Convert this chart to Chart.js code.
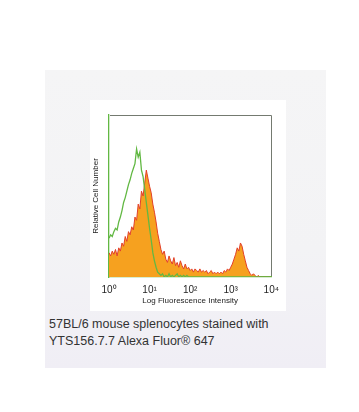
<!DOCTYPE html>
<html>
<head>
<meta charset="utf-8">
<script src="https://cdn.jsdelivr.net/npm/chart.js@4/dist/chart.umd.min.js"></script>
<style>
  html, body { margin: 0; padding: 0; background: #ffffff; }
  body { width: 359px; height: 412px; position: relative; overflow: hidden; font-family: "Liberation Sans", Arial, sans-serif; }
  #panel { position: absolute; left: 45px; top: 70px; width: 281px; height: 298px;
    background: linear-gradient(180deg, #f5f5f6 0%, #f3f3f5 60%, #f0eef5 100%); }
  #white { position: absolute; left: 90px; top: 100px; width: 196px; height: 211px; background: #ffffff; }
  #wrap { position: absolute; left: 90px; top: 100px; width: 196px; height: 211px; }
  #caption { position: absolute; left: 49px; top: 316px; font-size: 12.5px; line-height: 17px; color: #333333; white-space: nowrap; }
</style>
</head>
<body>
<div id="panel"></div>
<div id="white"></div>
<div id="wrap"><canvas id="c" width="196" height="211"></canvas></div>
<div id="caption">57BL/6 mouse splenocytes stained with<br>YTS156.7.7 Alexa Fluor® 647</div>
<script>
// Histogram bins: log10 fluorescence from 10^0 to 10^4, bin width 0.04 decades
const binWidth = 0.04;
const tickLabels = ["10\u2070", "10\u00b9", "10\u00b2", "10\u00b3", "10\u2074"];
const xTitle = "Log Fluorescence Intensity";
const yTitle = "Relative Cell Number";

// Stained sample (orange fill, red edge), relative height
const stainedCounts = [
  0.15, 0.13, 0.16, 0.14, 0.17, 0.13, 0.18, 0.16, 0.21, 0.19,
  0.25, 0.22, 0.28, 0.26, 0.31, 0.29, 0.37, 0.35, 0.45, 0.42,
  0.53, 0.50, 0.58, 0.66, 0.61, 0.56, 0.52, 0.45, 0.40, 0.34,
  0.27, 0.22, 0.17, 0.14, 0.16, 0.11, 0.09, 0.13, 0.10, 0.08,
  0.12, 0.07, 0.09, 0.06, 0.10, 0.07, 0.05, 0.08, 0.05, 0.06,
  0.04, 0.05, 0.03, 0.05, 0.04, 0.03, 0.05, 0.03, 0.04, 0.03,
  0.04, 0.02, 0.03, 0.04, 0.02, 0.03, 0.02, 0.03, 0.02, 0.03,
  0.02, 0.04, 0.03, 0.05, 0.04, 0.06, 0.08, 0.11, 0.14, 0.18,
  0.16, 0.21, 0.19, 0.14, 0.10, 0.06, 0.04, 0.02, 0.01, 0.02,
  0.01, 0.00, 0.01, 0.00, 0.00, 0.00, 0.00, 0.00, 0.00, 0.00,
  0.00
];

// Unstained control (green line), relative height
const controlCounts = [
  0.24, 0.26, 0.25, 0.28, 0.30, 0.29, 0.34, 0.37, 0.41, 0.46,
  0.49, 0.53, 0.57, 0.60, 0.64, 0.67, 0.70, 0.79, 0.74, 0.77,
  0.66, 0.62, 0.54, 0.46, 0.38, 0.30, 0.23, 0.15, 0.10, 0.06,
  0.03, 0.02, 0.01, 0.02, 0.00, 0.01, 0.00, 0.02, 0.00, 0.01,
  0.00, 0.01, 0.02, 0.00, 0.01, 0.00, 0.01, 0.00, 0.01, 0.00,
  0.00, 0.00, 0.00, 0.00, 0.00, 0.00, 0.00, 0.00, 0.00, 0.00,
  0.00, 0.00, 0.00, 0.00, 0.00, 0.00, 0.00, 0.00, 0.00, 0.00,
  0.00, 0.00, 0.00, 0.00, 0.00, 0.00, 0.00, 0.00, 0.00, 0.00,
  0.00, 0.00, 0.00, 0.00, 0.00, 0.00, 0.00, 0.00, 0.00, 0.00,
  0.00, 0.00, 0.00, 0.00, 0.00, 0.00, 0.00, 0.00, 0.00, 0.00,
  0.00
];

const toPoints = arr => arr.map((v, i) => ({ x: i * binWidth, y: v }));

const framePlugin = {
  id: 'frame',
  afterDraw(chart) {
    const a = chart.chartArea, ctx = chart.ctx;
    ctx.save();
    ctx.strokeStyle = '#747a70';
    ctx.lineWidth = 1;
    ctx.beginPath();
    ctx.moveTo(a.left + 1, Math.floor(a.top) + 0.5);
    ctx.lineTo(Math.floor(a.right) + 0.5, Math.floor(a.top) + 0.5);
    ctx.lineTo(Math.floor(a.right) + 0.5, a.bottom - 1);
    ctx.stroke();
    ctx.restore();
  }
};

new Chart(document.getElementById('c'), {
  type: 'line',
  data: {
    datasets: [
      {
        label: 'Control',
        data: toPoints(controlCounts),
        borderColor: '#62b843',
        borderWidth: 1.3,
        fill: false,
        pointRadius: 0,
        tension: 0,
        order: 0
      },
      {
        label: 'YTS156.7.7',
        data: toPoints(stainedCounts),
        borderColor: '#e2402a',
        backgroundColor: '#f6a11f',
        borderWidth: 1,
        fill: 'origin',
        pointRadius: 0,
        tension: 0,
        order: 1
      }
    ]
  },
  options: {
    responsive: false,
    animation: false,
    layout: { padding: { top: 15, right: 10, left: 0, bottom: 0 } },
    plugins: { legend: { display: false }, tooltip: { enabled: false } },
    scales: {
      x: {
        type: 'linear',
        min: 0, max: 4,
        grid: { display: false, drawTicks: false },
        border: { display: true, color: '#62b843', width: 1.3 },
        ticks: {
          stepSize: 1,
          padding: 7,
          color: '#1e1e1e',
          font: { family: 'Liberation Sans', size: 10 },
          maxRotation: 0,
          autoSkip: false,
          callback: (v) => tickLabels[Math.round(v)]
        },
        title: { display: true, text: xTitle, color: '#222222',
          font: { family: 'Liberation Sans', size: 8 }, padding: 5 },
        afterFit: (s) => { s.height = 34; }
      },
      y: {
        min: 0, max: 1,
        grid: { display: false, drawTicks: false },
        border: { display: true, color: '#62b843', width: 1.3 },
        ticks: { display: false },
        title: { display: true, text: yTitle, color: '#222222',
          font: { family: 'Liberation Sans', size: 8 }, padding: 1 },
        afterFit: (s) => { s.width = 19; }
      }
    }
  },
  plugins: [framePlugin]
});
</script>
</body>
</html>
